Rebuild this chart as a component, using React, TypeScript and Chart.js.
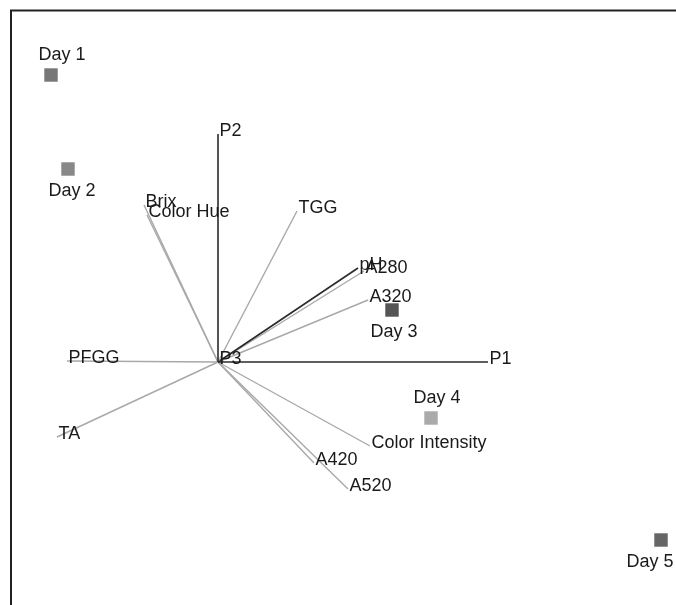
import React, { useEffect, useRef } from "react";
import { Chart, registerables } from "chart.js";

Chart.register(...registerables);

// Loading vectors (component-space units)
const vectorNames = [
  "P1", "P2", "P3", "Brix", "Color Hue", "TGG", "pH", "A280", "A320",
  "PFGG", "TA", "Color Intensity", "A420", "A520",
];
const vectorX = [2.70, 0, 0, -0.74, -0.71, 0.79, 1.40, 1.46, 1.50, -1.51, -1.61, 1.52, 0.96, 1.30];
const vectorY = [0, 2.28, 0, 1.57, 1.47, 1.51, 0.94, 0.91, 0.62, 0.01, -0.75, -0.84, -1.01, -1.27];

// Sample scores
const dayNames = ["Day 1", "Day 2", "Day 3", "Day 4", "Day 5"];
const dayX = [-1.67, -1.50, 1.74, 2.13, 4.43];
const dayY = [2.87, 1.93, 0.52, -0.56, -1.78];

// Styling
const axisVectors = new Set(["P1", "P2", "pH"]);
const dayColors = ["#777777", "#888888", "#555555", "#aaaaaa", "#666666"];
const dayLabelSide = ["top", "bottom", "bottom", "top", "bottom"];
const dayLabelNudge = [11, 4, 2, 6, -11];
const FONT = "18px 'Liberation Sans', Arial, sans-serif";
const TEXT_COLOR = "#1a1a1a";

const labelPlugin = {
  id: "biplotLabels",
  beforeDraw(chart: any) {
    const { ctx, chartArea } = chart;
    ctx.save();
    ctx.strokeStyle = "#222";
    ctx.lineWidth = 2;
    ctx.beginPath();
    ctx.moveTo(chartArea.left + 1, chartArea.bottom);
    ctx.lineTo(chartArea.left + 1, chartArea.top + 0.5);
    ctx.lineTo(chartArea.right, chartArea.top + 0.5);
    ctx.stroke();
    ctx.restore();
  },
  afterDatasetsDraw(chart: any) {
    const { ctx } = chart;
    ctx.save();
    ctx.font = FONT;
    ctx.fillStyle = TEXT_COLOR;
    ctx.textBaseline = "alphabetic";
    // vector labels at the arrow tips
    vectorNames.forEach((name, i) => {
      const meta = chart.getDatasetMeta(i);
      const tip = meta.data[1];
      ctx.textAlign = "left";
      ctx.fillText(name, tip.x + 1.5, tip.y + 1.5);
    });
    // day labels above / below the markers
    const dayMeta = chart.getDatasetMeta(vectorNames.length);
    dayNames.forEach((name, i) => {
      const p = dayMeta.data[i];
      ctx.textAlign = "center";
      const dy = dayLabelSide[i] === "top" ? -15 : 27;
      ctx.fillText(name, p.x + dayLabelNudge[i], p.y + dy);
    });
    ctx.restore();
  },
};

export default function App() {
  const canvasRef = useRef<HTMLCanvasElement | null>(null);

  useEffect(() => {
    const canvas = canvasRef.current;
    if (!canvas) return;

    const vectorSets = vectorNames.map((name, i) => ({
      label: name,
      data: [
        { x: 0, y: 0 },
        { x: vectorX[i], y: vectorY[i] },
      ],
      showLine: true,
      borderColor: axisVectors.has(name) ? "#2a2a2a" : "#a8a8a8",
      borderWidth: axisVectors.has(name) ? 1.6 : 1.4,
      pointRadius: 0,
      pointHoverRadius: 0,
      fill: false,
    }));

    const daySet = {
      label: "Days",
      data: dayX.map((x, i) => ({ x, y: dayY[i] })),
      showLine: false,
      pointStyle: "rect" as const,
      pointRadius: 9.5,
      pointBorderWidth: 0,
      pointBackgroundColor: dayColors,
      pointBorderColor: dayColors,
    };

    const chart = new Chart(canvas, {
      type: "scatter",
      data: { datasets: [...vectorSets, daySet] as any },
      options: {
        responsive: false,
        animation: false,
        layout: { autoPadding: false, padding: { left: 10, top: 10, right: 0, bottom: 0 } },
        plugins: {
          legend: { display: false },
          tooltip: { enabled: false },
        },
        scales: {
          x: { type: "linear", display: false, min: -2.08, max: 4.58 },
          y: { type: "linear", display: false, min: -2.43, max: 3.52 },
        },
      },
      plugins: [labelPlugin],
    });

    return () => chart.destroy();
  }, []);

  return (
    <div style={{ position: "absolute", left: 0, top: 0, width: 676, height: 605, background: "#fff" }}>
      <canvas ref={canvasRef} width={676} height={605} style={{ display: "block" }} />
    </div>
  );
}
